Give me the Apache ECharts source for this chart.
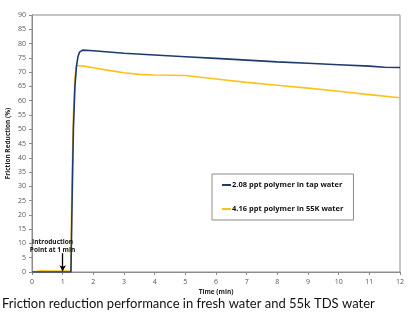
<!DOCTYPE html>
<html><head><meta charset="utf-8">
<script src="https://cdn.jsdelivr.net/npm/echarts@6/dist/echarts.min.js"></script>
<style>html,body{margin:0;padding:0;background:#fff}#c{width:411px;height:321px}</style>
</head><body><div id="c"></div>
<script>
var seriesNames = ['2.08 ppt polymer in tap water', '4.16 ppt polymer in 55K water'];
var tapTime  = [0, 0.5, 1.0, 1.27, 1.3, 1.35, 1.4, 1.45, 1.5, 1.55, 1.65, 2, 3, 4, 5, 6, 7, 8, 9, 10, 11, 11.5, 12];
var tapFR    = [0, 0, 0, 0, 20, 50, 65, 72, 75.5, 77, 77.7, 77.5, 76.6, 76, 75.4, 74.8, 74.2, 73.6, 73.1, 72.6, 72.1, 71.7, 71.6];
var saltTime = [0, 0.3, 0.6, 1.0, 1.27, 1.3, 1.35, 1.4, 1.45, 1.5, 1.7, 2, 2.5, 3, 3.5, 4, 5, 6, 7, 8, 9, 10, 11, 12];
var saltFR   = [0, 0.4, 0.3, 0.3, 0.3, 30, 55, 68, 72.3, 72.6, 72.1, 71.5, 70.6, 69.8, 69.2, 69, 68.8, 67.6, 66.4, 65.4, 64.4, 63.3, 62.1, 61];
var annotationText = 'Introduction\nPoint at 1 min';
var annotationTime = 1;
var caption = 'Friction reduction performance in fresh water and 55k TDS water';

function pairs(xs, ys){ return xs.map(function(x,i){ return [x, ys[i]]; }); }

var chart = echarts.init(document.getElementById('c'), null, {renderer:'canvas'});
chart.setOption({
  animation:false,
  backgroundColor:'#fff',
  grid:{left:32, right:11, top:15, bottom:49, show:true, borderColor:'#8c8c8c', borderWidth:1,
        containLabel:false, outerBoundsMode:'none'},
  legend:{
    left:212, top:174, orient:'vertical', itemGap:16,
    padding:[7,10,7,10], borderColor:'#8c8c8c', borderWidth:1,
    itemWidth:9, itemHeight:2, icon:'rect',
    textStyle:{fontFamily:'Open Sans', fontWeight:'bold', fontSize:7.5, color:'#111', padding:[0,0,0,-4]},
    data:seriesNames
  },
  xAxis:{
    type:'value', min:0, max:12, interval:1,
    name:'Time (min)', nameLocation:'middle', nameGap:17, nameMoveOverlap:false,
    nameTextStyle:{fontFamily:'Open Sans', fontWeight:'bold', fontSize:6.5, color:'#222'},
    axisLine:{lineStyle:{color:'#8c8c8c'}},
    axisTick:{show:true, length:3, lineStyle:{color:'#8c8c8c'}},
    axisLabel:{fontFamily:'Open Sans', fontSize:7, color:'#555', margin:6},
    splitLine:{show:false}
  },
  yAxis:{
    type:'value', min:0, max:90, interval:5,
    name:'Friction Reduction (%)', nameLocation:'middle', nameGap:20, nameRotate:90, nameMoveOverlap:false,
    nameTextStyle:{fontFamily:'Open Sans', fontWeight:'bold', fontSize:6.5, color:'#222'},
    axisLine:{show:true, lineStyle:{color:'#8c8c8c'}},
    axisTick:{show:true, length:3, lineStyle:{color:'#8c8c8c'}},
    axisLabel:{fontFamily:'Open Sans', fontSize:7, color:'#555', margin:6},
    splitLine:{show:false}
  },
  series:[
    {name:seriesNames[0], type:'line', data:pairs(tapTime, tapFR), showSymbol:false,
     lineStyle:{color:'#1f3a6e', width:1.6}, itemStyle:{color:'#1f3a6e'}, z:3},
    {name:seriesNames[1], type:'line', data:pairs(saltTime, saltFR), showSymbol:false,
     lineStyle:{color:'#fdc21a', width:1.6}, itemStyle:{color:'#fdc21a'}, z:2,
     markLine:{silent:true, symbol:['none','arrow'], symbolSize:[5,6],
       lineStyle:{color:'#000', width:1.3, type:'solid'}, label:{show:false},
       data:[[{coord:[annotationTime, 6.6]},{coord:[annotationTime, 0.3]}]]},
     markPoint:{silent:true, symbol:'rect', symbolSize:0,
       label:{show:true, formatter:annotationText, fontFamily:'Open Sans', fontWeight:'bold', fontSize:6.5, lineHeight:8, color:'#111', position:'inside'},
       data:[{coord:[annotationTime-0.33, 9.2]}]}
    }
  ],
  graphic:[{type:'text', left:2, top:297, style:{text:caption, fontFamily:'Lato', fontSize:13, fill:'#111'}}]
});
</script></body></html>
